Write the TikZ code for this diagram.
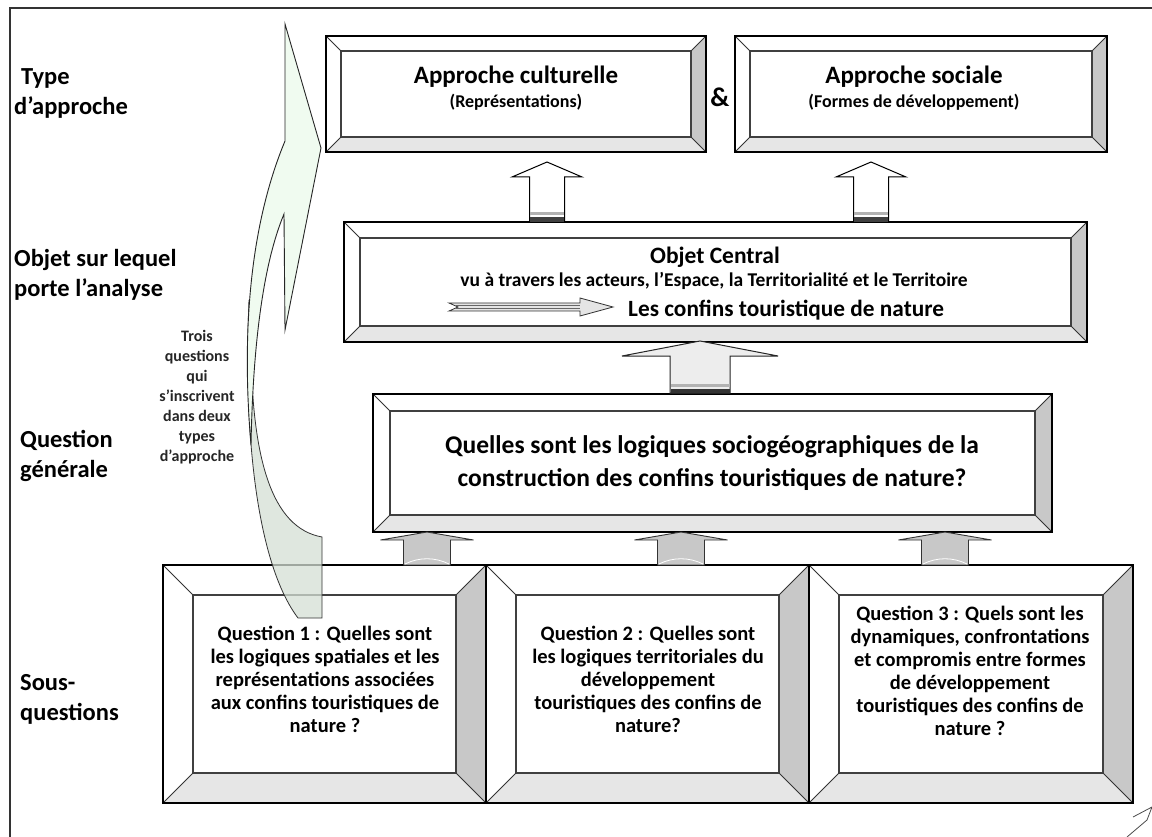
\documentclass[tikz,border=0pt]{standalone}
\usepackage{fontspec}
\setmainfont{Carlito}
\definecolor{bevR}{HTML}{C8C8C8}
\definecolor{bevB}{HTML}{E6E6E6}
\definecolor{frontg}{HTML}{F0FBF0}
\definecolor{backg}{HTML}{D5E0D5}
\definecolor{arrg}{HTML}{C8C8C8}
\definecolor{fatg}{HTML}{EDEDED}
\tikzset{
  outerline/.style={draw=black, line width=1.4pt},
  innerline/.style={draw=black!75, line width=1.1pt},
  diagline/.style={draw=black!80, line width=0.9pt},
  lbl/.style={font=\bfseries\fontsize{24.5}{30}\selectfont, align=left, anchor=west, inner sep=0pt},
  head/.style={font=\bfseries\fontsize{25}{28}\selectfont, inner sep=0pt},
  subhead/.style={font=\bfseries\fontsize{18}{20}\selectfont, inner sep=0pt},
  qtext/.style={font=\bfseries\fontsize{20.5}{23}\selectfont, align=center, inner sep=0pt},
  hollowarr/.style={draw=black, line width=1pt, fill=white},
  grayarr/.style={draw=black!80, line width=0.9pt, fill=arrg},
}
\newcommand\bevbox[6]{%
  \fill[white] (#1,#2) rectangle (#3,#4);
  \fill[bevR] (#3,#2) -- (#3,#4) -- ({#3-#5},{#4-#5}) -- ({#3-#5},{#2+#5}) -- cycle;
  \fill[bevB] (#1,#4) -- (#3,#4) -- ({#3-#5},{#4-#5}) -- ({#1+#5},{#4-#5}) -- cycle;
  \draw[innerline] ({#1+#5},{#2+#5}) rectangle ({#3-#5},{#4-#5});
  \draw[diagline] (#1,#2) -- ({#1+#5},{#2+#5}) (#3,#2) -- ({#3-#5},{#2+#5})
     (#1,#4) -- ({#1+#5},{#4-#5}) (#3,#4) -- ({#3-#5},{#4-#5});
  \draw[outerline] (#1,#2) rectangle (#3,#4);
  \coordinate (#6) at ({(#1+#3)/2},{(#2+#4)/2});
}
% centre x, tip y, base-of-head y, bottom y, head half width, shaft half width, style
\newcommand\grayup[7]{%
  \draw[#7] (#1,#2) -- ({#1+#5},#3) -- ({#1+#6},#3) -- ({#1+#6},#4)
    -- ({#1-#6},#4) -- ({#1-#6},#3) -- ({#1-#5},#3) -- cycle;
}
\begin{document}
\begin{tikzpicture}[x=1pt,y=-1pt]
\useasboundingbox (0,0) rectangle (1152,837);
\fill[white] (0,0) rectangle (1152,837);
% frame
\draw[line width=1.5pt, black!80] (10,837) -- (10,8) -- (1152,8);

% left labels
\node[lbl] (l1) at (14,93) {\hspace*{7pt}Type\\d’approche};
\node[lbl] (l2) at (14,275) {Objet sur lequel\\porte l’analyse};
\node[lbl] (l3) at (20,456) {Question\\générale};
\node[lbl] (l4) at (20,699) {Sous-\\questions};

% boxes
\bevbox{326}{36}{706}{152}{15}{cult}
\bevbox{735}{36}{1107}{152}{15}{soc}
\bevbox{344}{222}{1087}{342}{16}{obj}
\bevbox{373}{394}{1052}{532}{17}{qg}
\bevbox{163}{565}{486}{803}{30}{q1}
\bevbox{486}{565}{809}{803}{30}{q2}
\bevbox{809}{565}{1133}{803}{30}{q3}

% box texts
\node[head] (cultT) at (516,77) {Approche culturelle};
\node[subhead] (cultS) at (516,102) {(Représentations)};
\node[head] (socT) at (914,77) {Approche sociale};
\node[subhead] (socS) at (914,102) {(Formes de développement)};
\node[font=\bfseries\fontsize{27}{28}\selectfont, inner sep=0pt] (amp) at (720,97) {\&};

\node[font=\bfseries\fontsize{23.5}{26}\selectfont, inner sep=0pt] (objT) at (715,257) {Objet Central};
\node[font=\bfseries\fontsize{19.5}{22}\selectfont, inner sep=0pt] (objS) at (714,281) {vu à travers les acteurs, l’Espace, la Territorialité et le Territoire};
\node[font=\bfseries\fontsize{23.3}{26}\selectfont, inner sep=0pt, anchor=west] (objC) at (628,310) {Les confins touristique de nature};
% small arrow inside objet central
\draw[draw=black!80, line width=0.8pt, fill=gray!20]
  (449,303) -- (580,303) -- (580,298) -- (613,307) -- (580,316) -- (580,311)
  -- (449,311) -- (458,307) -- cycle;
\draw[black!60, line width=0.5pt] (456,305.5) -- (580,305.5) (456,308.5) -- (580,308.5);

\node[font=\bfseries\fontsize{25.5}{33}\selectfont, align=center, inner sep=0pt] (qgT) at (712,463)
  {Quelles sont les logiques sociogéographiques de la\\construction des confins touristiques de nature?};

\node[qtext] (q1T) at (325,679) {Question 1 : Quelles sont\\les logiques spatiales et les\\représentations associées\\aux confins touristiques de\\nature ?};
\node[qtext] (q2T) at (648,679) {Question 2 : Quelles sont\\les logiques territoriales du\\développement\\touristiques des confins de\\nature?};
\node[qtext] (q3T) at (970,671) {Question 3 : Quels sont les\\dynamiques, confrontations\\et compromis entre formes\\de développement\\touristiques des confins de\\nature ?};

% hollow up arrows (objet central -> approches)
\grayup{547}{162}{177}{222}{35}{17.5}{hollowarr}
\grayup{871}{162}{177}{222}{35}{17.5}{hollowarr}
\foreach \cx in {547,871}{
  \fill[gray!60] ({\cx-17},212) rectangle ({\cx+17},215);
  \fill[black!75] ({\cx-17},217) rectangle ({\cx+17},222);
}
% fat arrow (question generale -> objet central)
\grayup{700}{341}{356}{393}{78}{30}{draw=black!85, line width=1pt, fill=fatg}
\fill[gray!60] (670.5,384) rectangle (729.5,387);
\fill[black!80] (670.5,389) rectangle (729.5,393);
% gray arrows (sub questions -> question generale)
\foreach \cx in {427,681,945}{
  \grayup{\cx}{532}{540}{565}{46.5}{23.5}{grayarr}
  \draw[white, line width=0.8pt] ({\cx-22},564) .. controls ({\cx-8},557) and ({\cx+8},557) .. ({\cx+22},564);
}

% big curved arrow
\draw[draw=black!80, line width=0.8pt, fill=backg, fill opacity=0.75]
  (249,300) .. controls (243,440) and (258,565) .. (298,618) -- (322,618) -- (322,537)
  .. controls (272,528) and (250,460) .. (251,330) -- cycle;
\draw[draw=black!85, line width=0.9pt, fill=frontg]
  (285,24) -- (321,148) -- (285,330) -- (284,214)
  .. controls (264,262) and (253,340) .. (251,445)
  .. controls (242,340) and (248,230) .. (285,141) -- cycle;
\node[font=\bfseries\fontsize{16}{20}\selectfont, align=center, inner sep=0pt, text=black!85] (trois) at (197,397)
  {Trois\\questions\\qui\\s’inscrivent\\dans deux\\types\\d’approche};

% partial shape at bottom right
\draw[draw=black!70, line width=0.8pt, fill=white] (1133,817) -- (1152,807) -- (1147,820) -- (1127,837);
\end{tikzpicture}
\end{document}
